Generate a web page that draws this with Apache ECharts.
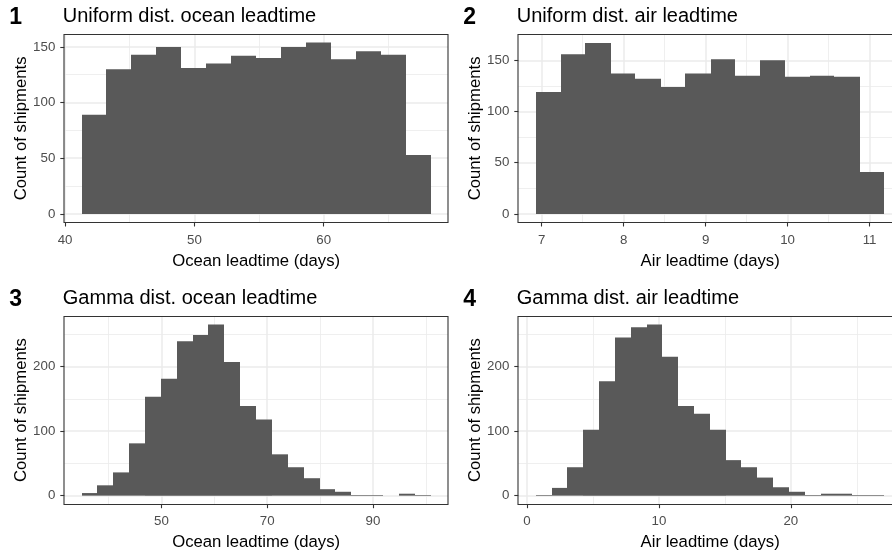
<!DOCTYPE html>
<html>
<head>
<meta charset="utf-8">
<script src="https://cdn.jsdelivr.net/npm/echarts@6/dist/echarts.min.js"></script>
<style>
  html, body { margin: 0; padding: 0; background: #fff; }
  #chart { width: 892px; height: 554px; }
</style>
</head>
<body>
<div id="chart"></div>
<script>
// bin edges and counts
const oceanUniformEdges = [41.3, 43.2, 45.1, 47.0, 49.0, 50.9, 52.8, 54.8, 56.7, 58.6, 60.6, 62.5, 64.4, 66.4, 68.3]
const oceanUniformCounts = [89, 130, 143, 150, 131, 135, 142, 140, 150, 154, 139, 146, 143, 53]

const airUniformEdges = [6.93, 7.23, 7.53, 7.84, 8.14, 8.45, 8.75, 9.06, 9.36, 9.66, 9.97, 10.27, 10.57, 10.88, 11.18]
const airUniformCounts = [119, 156, 167, 137, 132, 124, 137, 151, 135, 150, 134, 135, 134, 41]

const oceanGammaEdges = [34.9, 37.9, 40.9, 43.9, 46.9, 49.9, 52.9, 55.9, 58.9, 61.9, 64.9, 67.9, 70.9, 73.9, 76.9, 79.9, 82.9, 85.9, 88.9, 91.9, 94.9, 97.9, 100.9]
const oceanGammaCounts = [4, 16, 36, 81, 153, 181, 239, 249, 265, 207, 139, 118, 64, 44, 27, 10, 6, 1, 1, 0, 3, 1]

const airGammaEdges = [0.66, 1.86, 3.06, 4.26, 5.46, 6.66, 7.86, 9.06, 10.26, 11.46, 12.66, 13.86, 15.06, 16.26, 17.46, 18.66, 19.86, 21.06, 22.26, 23.46, 24.66, 25.86, 27.06]
const airGammaCounts = [1, 12, 44, 102, 177, 245, 261, 265, 215, 139, 127, 102, 55, 44, 28, 13, 6, 1, 3, 3, 1, 1]

const panelTitles = ['Uniform dist. ocean leadtime', 'Uniform dist. air leadtime', 'Gamma dist. ocean leadtime', 'Gamma dist. air leadtime']
const panelTags = ['1', '2', '3', '4']
const xTitles = ['Ocean leadtime (days)', 'Air leadtime (days)', 'Ocean leadtime (days)', 'Air leadtime (days)']
const yTitle = 'Count of shipments'

const xMajor = [[40, 50, 60], [7, 8, 9, 10, 11], [50, 70, 90], [0, 10, 20]]
const xMinor = [[45, 55, 65], [7.5, 8.5, 9.5, 10.5], [40, 60, 80, 100], [5, 15, 25]]
const yMajor = [[0, 50, 100, 150], [0, 50, 100, 150], [0, 100, 200], [0, 100, 200]]
const yMinor = [[25, 75, 125], [25, 75, 125, 175], [50, 150, 250], [50, 150, 250]]

const xRange = [[39.94, 69.61], [6.714, 11.396], [31.64, 104.18], [-0.66, 28.43]]
const yRange = [[-7.7, 161.3], [-8.4, 175.4], [-13.25, 278.25], [-13.25, 278.25]]

const hists = [
  [oceanUniformEdges, oceanUniformCounts],
  [airUniformEdges, airUniformCounts],
  [oceanGammaEdges, oceanGammaCounts],
  [airGammaEdges, airGammaCounts]
]

// layout
const FONT = '"Liberation Sans", Arial, sans-serif'
const panelBox = [
  { left: 64.3, top: 34.3 },
  { left: 518.3, top: 34.3 },
  { left: 64.3, top: 316 },
  { left: 518.3, top: 316 }
]
const panelW = 383.7
const panelH = 188.2

// bins snapped to whole pixels so neighbouring bars leave no seam
function renderBin(params, api) {
  let a = api.coord([api.value(0), 0])
  let b = api.coord([api.value(1), api.value(2)])
  let x0 = Math.round(a[0]), x1 = Math.round(b[0])
  return {
    type: 'rect',
    shape: { x: x0, y: b[1], width: x1 - x0, height: a[1] - b[1] },
    style: { fill: '#595959' }
  }
}

let grids = [], xAxes = [], yAxes = [], series = [], graphics = []

panelBox.forEach((box, i) => {
  grids.push({
    left: box.left, top: box.top, width: panelW, height: panelH,
    show: true, backgroundColor: '#fff', borderWidth: 0,
    containLabel: false, outerBoundsMode: 'none'
  })
  // main x axis: ticks, labels, major grid
  xAxes.push({
    type: 'value', gridIndex: i, position: 'bottom',
    min: xRange[i][0], max: xRange[i][1],
    axisLine: { show: false, onZero: false },
    axisTick: { show: true, length: 4, customValues: xMajor[i], lineStyle: { color: '#333', width: 1.1 } },
    axisLabel: { customValues: xMajor[i], color: '#4d4d4d', fontSize: 13.3, fontFamily: FONT, margin: 11, hideOverlap: false, showMinLabel: true, showMaxLabel: true },
    splitLine: { show: true, lineStyle: { color: '#ebebeb', width: 1.5 } },
    name: xTitles[i], nameLocation: 'middle', nameGap: 30, nameMoveOverlap: false,
    nameTextStyle: { color: '#000', fontSize: 16.7, fontFamily: FONT }
  })
  // helper x axis for the minor grid only
  xAxes.push({
    type: 'value', gridIndex: i, position: 'top',
    min: xRange[i][0], max: xRange[i][1],
    axisLine: { show: false, onZero: false },
    axisTick: { show: false, customValues: xMinor[i] },
    axisLabel: { show: false, customValues: xMinor[i] },
    splitLine: { show: true, lineStyle: { color: '#ebebeb', width: 0.8 } }
  })
  yAxes.push({
    type: 'value', gridIndex: i, position: 'left',
    min: yRange[i][0], max: yRange[i][1],
    axisLine: { show: false, onZero: false },
    axisTick: { show: true, length: 4, customValues: yMajor[i], lineStyle: { color: '#333', width: 1.1 } },
    axisLabel: { customValues: yMajor[i], color: '#4d4d4d', fontSize: 13.3, fontFamily: FONT, margin: 9, hideOverlap: false, showMinLabel: true, showMaxLabel: true },
    splitLine: { show: true, lineStyle: { color: '#ebebeb', width: 1.5 } },
    name: yTitle, nameLocation: 'middle', nameGap: 34, nameMoveOverlap: false,
    nameTextStyle: { color: '#000', fontSize: 16.7, fontFamily: FONT }
  })
  yAxes.push({
    type: 'value', gridIndex: i, position: 'right',
    min: yRange[i][0], max: yRange[i][1],
    axisLine: { show: false, onZero: false },
    axisTick: { show: false, customValues: yMinor[i] },
    axisLabel: { show: false, customValues: yMinor[i] },
    splitLine: { show: true, lineStyle: { color: '#ebebeb', width: 0.8 } }
  })

  let edges = hists[i][0], counts = hists[i][1]
  let binData = counts.map((n, k) => [edges[k], edges[k + 1], n])
  series.push({
    type: 'custom', xAxisIndex: 2 * i, yAxisIndex: 2 * i,
    renderItem: renderBin, data: binData, encode: { x: [0, 1], y: 2 },
    clip: false, silent: true, animation: false, z: 5
  })

  // panel frame, crisp on whole pixels
  let fx = Math.round(box.left) + 0.5, fy = Math.round(box.top) + 0.5
  graphics.push({
    type: 'rect', z: 100, silent: true,
    shape: { x: fx - 0.5, y: fy, width: Math.round(panelW), height: Math.round(panelH) },
    style: { fill: null, stroke: '#333', lineWidth: 1.1 }
  })
  graphics.push({
    type: 'text', left: box.left - 1.5, top: box.top - 28,
    style: { text: panelTitles[i], font: '20px ' + FONT, fill: '#000' }
  })
  graphics.push({
    type: 'text', left: box.left - 55, top: box.top - 28,
    style: { text: panelTags[i], font: 'bold 23px ' + FONT, fill: '#000' }
  })
})

let myChart = echarts.init(document.getElementById('chart'), null, { renderer: 'canvas' })
myChart.setOption({
  backgroundColor: '#fff',
  animation: false,
  grid: grids,
  xAxis: xAxes,
  yAxis: yAxes,
  series: series,
  graphic: graphics
})
</script>
</body>
</html>
